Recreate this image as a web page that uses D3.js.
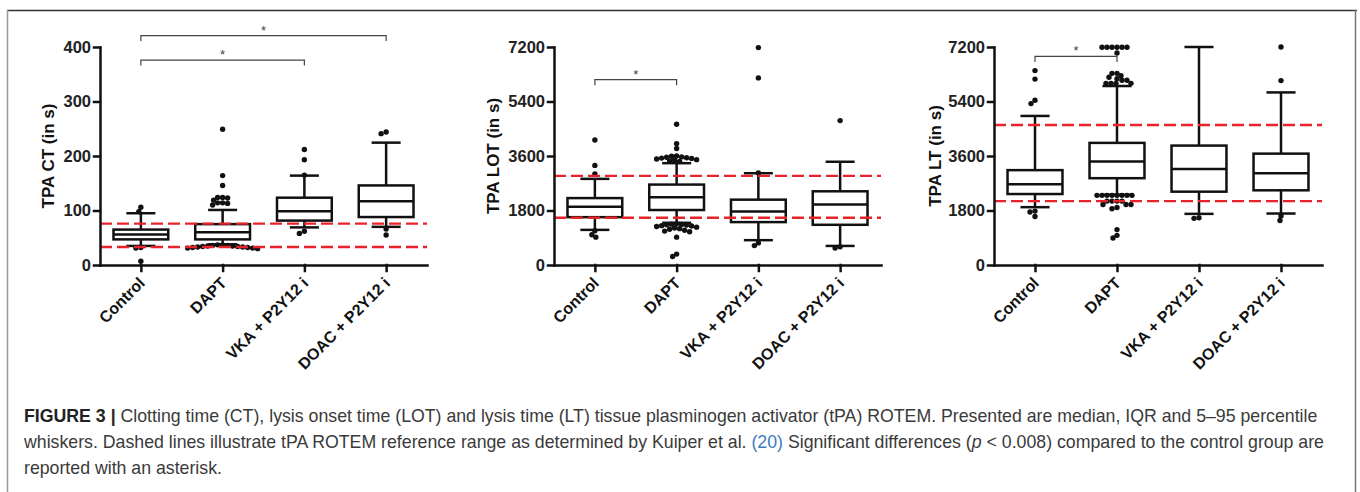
<!DOCTYPE html>
<html>
<head>
<meta charset="utf-8">
<script src="https://cdn.jsdelivr.net/npm/d3@7"></script>
<style>
body { margin: 0; background: #fff; }
svg { display: block; font-family: "Liberation Sans", Arial, sans-serif; }
</style>
</head>
<body>
<div id="vis"></div>
<script>
var groups = ['Control', 'DAPT', 'VKA + P2Y12 i', 'DOAC + P2Y12 i'];

// box stats per group: [whisker low, q1, median, q3, whisker high]
var ctBoxes = [[35, 47, 56, 65, 95], [38, 47, 60, 75, 101], [69, 81.5, 98.5, 123.5, 164], [70, 88, 117, 146, 224.5]];
var ctOutliers = [
    [106, 98, 32, 31, 7],
    [249, 164, 146, 124, 124, 123, 119, 114, 114, 113, 110,
     37, 37, 36, 36, 35, 35, 34, 34, 33, 33, 32, 32, 31, 31, 30],
    [212, 193, 165, 62, 58],
    [244, 241, 66, 55]
];
var ctRef = [33, 76];
var ctTicks = [0, 100, 200, 300, 400];
var ctBrackets = [[0, 3, 421], [0, 2, 376]];

var lotBoxes = [[1160, 1580, 1925, 2210, 2845], [1394, 1816, 2235, 2656, 3363], [820, 1417, 1770, 2158, 3031], [630, 1328, 2002, 2434, 3410]];
var lotOutliers = [
    [4130, 3290, 3010, 1130, 1000, 920],
    [4650, 4010, 3850, 3600, 3590, 3570, 3560, 3540, 3530, 3520, 3500, 3480, 3460, 3440, 3420,
     1360, 1350, 1340, 1330, 1320, 1300, 1290, 1270, 1250, 1220, 1200, 1180, 1150, 1120, 1100, 920, 360, 280],
    [7180, 6180, 3040, 730, 640],
    [4770, 600, 560]
];
var lotRef = [1560, 2945];
var lotTicks = [0, 1800, 3600, 5400, 7200];
var lotBrackets = [[0, 1, 6120]];

var ltBoxes = [[1910, 2344, 2667, 3133, 4923], [2322, 2867, 3422, 4033, 5911], [1689, 2422, 3167, 3944, 7200], [1700, 2467, 3033, 3678, 5700]];
var ltOutliers = [
    [6420, 6140, 5440, 5330, 1780, 1750, 1600],
    [7190, 7190, 7190, 7190, 7190, 7190, 7000, 6330, 6330, 6250, 6200, 6150, 6100, 6100, 6000, 6000, 6000, 6000,
     2300, 2300, 2300, 2300, 2300, 2300, 2300, 2300, 2110, 2110, 2110, 2110, 2000, 2000, 2000, 1900, 1860, 1170, 980, 890],
    [1560, 1540],
    [7200, 6090, 1620, 1470]
];
var ltRef = [2111, 4622];
var ltTicks = [0, 1800, 3600, 5400, 7200];
var ltBrackets = [[0, 1, 6890]];

var panels = [
    {label: 'TPA CT (in s)', max: 400, ticks: ctTicks, boxes: ctBoxes, outliers: ctOutliers, ref: ctRef, brackets: ctBrackets, left: 100, right: 427, labelX: 48},
    {label: 'TPA LOT (in s)', max: 7200, ticks: lotTicks, boxes: lotBoxes, outliers: lotOutliers, ref: lotRef, brackets: lotBrackets, left: 554, right: 881, labelX: 493},
    {label: 'TPA LT (in s)', max: 7200, ticks: ltTicks, boxes: ltBoxes, outliers: ltOutliers, ref: ltRef, brackets: ltBrackets, left: 994, right: 1322, labelX: 935}
];

var W = 1360, H = 492, yBottom = 265, yTop = 47, r = 2.7;

var svg = d3.select('#vis').append('svg')
    .attr('width', W)
    .attr('height', H);

// frame
svg.append('line').attr('x1', 7).attr('x2', 1357).attr('y1', 10.5).attr('y2', 10.5)
    .attr('stroke', '#333').attr('stroke-width', 1.5);
svg.append('line').attr('x1', 7.5).attr('x2', 7.5).attr('y1', 10).attr('y2', H)
    .attr('stroke', '#999').attr('stroke-width', 1.5);
svg.append('line').attr('x1', 1355.5).attr('x2', 1355.5).attr('y1', 10).attr('y2', H)
    .attr('stroke', '#777').attr('stroke-width', 1.5);

// simple beeswarm so that tied outliers spread sideways
function swarm(values, cx, y) {
    var placed = [], gap = 2 * r * 0.85;
    values.forEach(function(v) {
        var py = y(v);
        for (var k = 0; k < 400; k++) {
            var off = (k % 2 === 0 ? 1 : -1) * Math.ceil(k / 2);
            var px = cx + off;
            var ok = placed.every(p => (p.x - px) * (p.x - px) + (p.y - py) * (p.y - py) >= gap * gap);
            if (ok) break;
        }
        placed.push({x: px, y: py});
    });
    return placed;
}

panels.forEach(function(p) {
    var g = svg.append('g');
    var x = d3.scalePoint().domain(groups).range([p.left, p.right]).padding(0.5);
    var y = d3.scaleLinear().domain([0, p.max]).range([yBottom, yTop]);
    var bw = x.step() * 0.67, cw = bw * 0.53;

    var box = g.selectAll('g.box')
        .data(p.boxes)
        .enter()
        .append('g')
            .attr('fill', 'none')
            .attr('stroke', '#111')
            .attr('stroke-width', 2.5);

    box.append('line')
        .attr('x1', (d, i) => x(groups[i])).attr('x2', (d, i) => x(groups[i]))
        .attr('y1', d => y(d[0])).attr('y2', d => y(d[1]));
    box.append('line')
        .attr('x1', (d, i) => x(groups[i])).attr('x2', (d, i) => x(groups[i]))
        .attr('y1', d => y(d[3])).attr('y2', d => y(d[4]));
    box.append('line')
        .attr('x1', (d, i) => x(groups[i]) - cw / 2).attr('x2', (d, i) => x(groups[i]) + cw / 2)
        .attr('y1', d => y(d[0])).attr('y2', d => y(d[0]));
    box.append('line')
        .attr('x1', (d, i) => x(groups[i]) - cw / 2).attr('x2', (d, i) => x(groups[i]) + cw / 2)
        .attr('y1', d => y(d[4])).attr('y2', d => y(d[4]));
    box.append('rect')
        .attr('x', (d, i) => x(groups[i]) - bw / 2)
        .attr('y', d => y(d[3]))
        .attr('width', bw)
        .attr('height', d => y(d[1]) - y(d[3]));
    box.append('line')
        .attr('x1', (d, i) => x(groups[i]) - bw / 2).attr('x2', (d, i) => x(groups[i]) + bw / 2)
        .attr('y1', d => y(d[2])).attr('y2', d => y(d[2]));

    // outliers
    p.outliers.forEach(function(vals, i) {
        g.selectAll(null)
            .data(swarm(vals, x(groups[i]), y))
            .enter()
            .append('circle')
                .attr('cx', d => d.x)
                .attr('cy', d => d.y)
                .attr('r', r)
                .attr('fill', '#111');
    });

    // reference range
    g.selectAll(null)
        .data(p.ref)
        .enter()
        .append('line')
            .attr('x1', p.left).attr('x2', p.right)
            .attr('y1', d => y(d)).attr('y2', d => y(d))
            .attr('stroke', '#e8232b')
            .attr('stroke-width', 2.4)
            .attr('stroke-dasharray', '12,5');

    // axes
    var ya = g.append('g')
        .attr('transform', 'translate(' + p.left + ',0)')
        .call(d3.axisLeft(y).tickValues(p.ticks).tickFormat(d3.format('d'))
            .tickSize(6).tickPadding(3).tickSizeOuter(0));
    g.append('g')
        .attr('transform', 'translate(0,' + yBottom + ')')
        .call(d3.axisBottom(x).tickSize(6).tickSizeOuter(0).tickFormat(''));
    g.selectAll('.domain, .tick line')
        .attr('stroke', '#111')
        .attr('stroke-width', 2.5)
        .attr('stroke-linecap', 'square');
    ya.selectAll('text')
        .attr('fill', '#222')
        .style('font-size', '16.5px')
        .style('font-weight', 'bold');

    g.selectAll(null)
        .data(groups)
        .enter()
        .append('text')
            .attr('transform', d => 'translate(' + (x(d) + 5) + ',' + (yBottom + 19) + ') rotate(-45)')
            .attr('text-anchor', 'end')
            .attr('fill', '#111')
            .style('font-size', '16px')
            .style('font-weight', 'bold')
            .text(d => d);

    g.append('text')
        .attr('transform', 'translate(' + p.labelX + ',' + ((yBottom + yTop) / 2) + ') rotate(-90)')
        .attr('text-anchor', 'middle')
        .attr('dy', '0.35em')
        .attr('fill', '#111')
        .style('font-size', '17px')
        .style('font-weight', 'bold')
        .text(p.label);

    // significance brackets
    p.brackets.forEach(function(b) {
        var x1 = x(groups[b[0]]), x2 = x(groups[b[1]]), by = y(b[2]);
        g.append('path')
            .attr('d', 'M' + x1 + ',' + (by + 5.5) + 'V' + by + 'H' + x2 + 'V' + (by + 5.5))
            .attr('fill', 'none')
            .attr('stroke', '#444')
            .attr('stroke-width', 1.2);
        g.append('text')
            .attr('x', (x1 + x2) / 2)
            .attr('y', by - 1)
            .attr('text-anchor', 'middle')
            .attr('fill', '#444')
            .style('font-size', '13px')
            .text('*');
    });
});

// caption
var cap = svg.append('g').attr('fill', '#3a3a3a');
var l1 = cap.append('text').attr('x', 24).attr('y', 422).style('font-size', '18px');
l1.append('tspan').attr('fill', '#222').style('font-weight', 'bold').text('FIGURE 3 | ');
l1.append('tspan').text('Clotting time (CT), lysis onset time (LOT) and lysis time (LT) tissue plasminogen activator (tPA) ROTEM. Presented are median, IQR and 5\u201395 percentile');
var l2 = cap.append('text').attr('x', 24).attr('y', 448).style('font-size', '18px');
l2.append('tspan').text('whiskers. Dashed lines illustrate tPA ROTEM reference range as determined by Kuiper et al. ');
l2.append('tspan').attr('fill', '#3b7bbf').text('(20)');
l2.append('tspan').text(' Significant differences (');
l2.append('tspan').style('font-style', 'italic').text('p');
l2.append('tspan').text(' < 0.008) compared to the control group are');
cap.append('text').attr('x', 24).attr('y', 474).style('font-size', '18px')
    .text('reported with an asterisk.');

var fs = 18 * 1294 / l1.node().getComputedTextLength();
cap.selectAll('text').style('font-size', fs + 'px');
</script>
</body>
</html>
